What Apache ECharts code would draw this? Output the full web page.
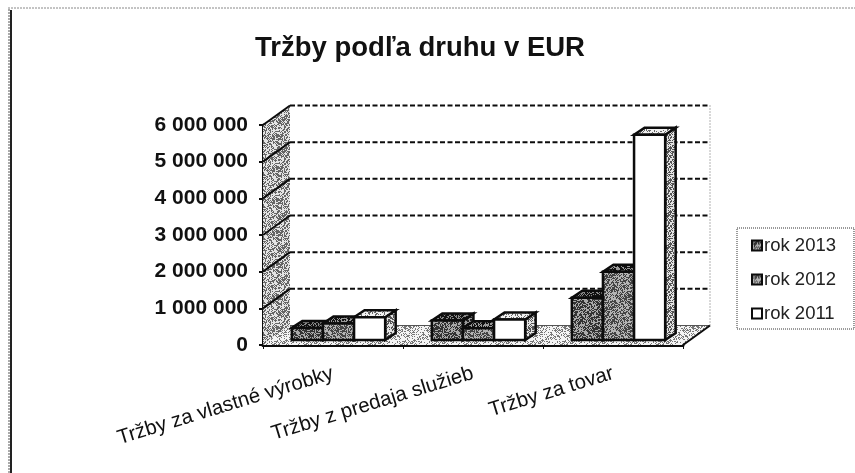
<!DOCTYPE html>
<html><head><meta charset="utf-8">
<style>html,body{margin:0;padding:0;background:#fff}#c{width:855px;height:473px}</style>
<script src="https://cdn.jsdelivr.net/npm/echarts@6/dist/echarts.min.js"></script>
</head><body><div id="c"></div>
<script>
const titleText = 'Tržby podľa druhu v EUR';
const categories = ['Tržby za vlastné výrobky', 'Tržby z predaja služieb', 'Tržby za tovar'];
const seriesNames = ['rok 2013', 'rok 2012', 'rok 2011'];
const values2013 = [330000, 530000, 1150000];
const values2012 = [450000, 320000, 1860000];
const values2011 = [620000, 560000, 5600000];
const yMax = 6000000;
const yStep = 1000000;

function stipple(dark, light, share) {
  const n = 32, cv = document.createElement('canvas');
  cv.width = cv.height = n;
  const g = cv.getContext('2d');
  g.fillStyle = light; g.fillRect(0, 0, n, n);
  g.fillStyle = dark;
  let h = 12345;
  for (let y = 0; y < n; y++) for (let x = 0; x < n; x++) {
    h = (h * 1103515 + 12345) & 0x7fffffff;
    if (((x + y) % 2 === 0 ? share + 0.12 : share - 0.12) > (h >> 8 & 255) / 255) g.fillRect(x, y, 1, 1);
  }
  return { image: cv, repeat: 'repeat' };
}
const fills = {
  wall: stipple('#666', '#e4e4e4', 0.48),
  floor: stipple('#777', '#f4f4f4', 0.3),
  front: [stipple('#333', '#aaa', 0.55), stipple('#444', '#b4b4b4', 0.5), '#ffffff'],
  top: [stipple('#111', '#888', 0.62), stipple('#111', '#999', 0.55), stipple('#666', '#f0f0f0', 0.3)],
  side: [stipple('#222', '#999', 0.6), stipple('#222', '#aaa', 0.55), stipple('#555', '#e4e4e4', 0.45)]
};
const ink = '#0c0c0c';
const DX = 27, DY = -19.5, BDX = 10.5, BDY = -7, SX = 5.5, SY = -5;

function poly(pts, fill, lw) {
  return { type: 'polygon', shape: { points: pts }, style: { fill: fill, stroke: ink, lineWidth: lw === undefined ? 2.5 : lw } };
}
function frame(params, api) {
  const cs = params.coordSys, kids = [];
  const L = cs.x, R = cs.x + cs.width, B = api.coord([0, 0])[1], T = api.coord([0, yMax])[1];
  kids.push(poly([[L, B], [L + DX, B + DY], [L + DX, T + DY], [L, T]], fills.wall, 0));
  kids.push(poly([[L, B], [L + DX, B + DY], [R + DX, B + DY], [R, B]], fills.floor, 0));
  kids.push({ type: 'line', shape: { x1: L + DX, y1: B + DY, x2: R + DX, y2: B + DY }, style: { stroke: '#555', lineWidth: 1 } });
  kids.push({ type: 'line', shape: { x1: R, y1: B, x2: R + DX, y2: B + DY }, style: { stroke: ink, lineWidth: 2 } });
  kids.push({ type: 'line', shape: { x1: R + DX, y1: T + DY, x2: R + DX, y2: B + DY }, style: { stroke: '#666', lineWidth: 1, lineDash: [1, 2] } });
  for (let v = yStep; v <= yMax; v += yStep) {
    const y = api.coord([0, v])[1];
    kids.push({ type: 'line', shape: { x1: L, y1: y, x2: L + DX, y2: y + DY }, style: { stroke: ink, lineWidth: 2 } });
    kids.push({ type: 'line', shape: { x1: L + DX, y1: y + DY, x2: R + DX, y2: y + DY }, style: { stroke: ink, lineWidth: 2, lineDash: [5, 2.5] } });
  }
  return { type: 'group', children: kids };
}
function bar3d(idx) {
  return function (params, api) {
    const band = api.size([1, 0])[0], w = band / 4.5;
    const p = api.coord([api.value(0), api.value(1)]), base = api.coord([api.value(0), 0]);
    const x0 = p[0] - 1.5 * w + idx * w + SX, x1 = x0 + w;
    const t = p[1] + SY, b = base[1] + SY;
    return { type: 'group', children: [
      poly([[x1, t], [x1 + BDX, t + BDY], [x1 + BDX, b + BDY], [x1, b]], fills.side[idx]),
      poly([[x0, t], [x0 + BDX, t + BDY], [x1 + BDX, t + BDY], [x1, t]], fills.top[idx]),
      poly([[x0, t], [x1, t], [x1, b], [x0, b]], fills.front[idx])
    ] };
  };
}
const fontName = '"Liberation Sans", Arial, sans-serif';
const yearData = [values2013, values2012, values2011];
const option = {
  animation: false,
  backgroundColor: '#fff',
  title: { text: titleText, left: 415, top: 29, textAlign: 'center',
    textStyle: { fontFamily: fontName, fontWeight: 'bold', fontSize: 27.5, color: '#111' } },
  grid: { left: 263, top: 125, width: 420, height: 220, containLabel: false },
  legend: {
    data: seriesNames.map((n, i) => ({ name: n, icon: 'rect', itemStyle: { color: fills.front[i], borderColor: ink, borderWidth: 2 } })),
    orient: 'vertical', left: 737, top: 228,
    padding: [8, 18, 6, 14], itemWidth: 10, itemHeight: 10, itemGap: 15,
    borderColor: '#333', borderWidth: 1, borderType: [1, 1], backgroundColor: '#fff',
    textStyle: { fontFamily: fontName, fontSize: 18.5, color: '#222', padding: [0, 0, 0, -3] }
  },
  xAxis: { type: 'category', data: categories, boundaryGap: true,
    axisLine: { lineStyle: { color: ink, width: 3 } },
    axisTick: { show: true, length: 4, lineStyle: { color: ink, width: 1 } },
    axisLabel: { rotate: 17, interval: 0, margin: 28, fontFamily: fontName, fontSize: 20.5, color: '#111' } },
  yAxis: { type: 'value', min: 0, max: yMax, interval: yStep,
    axisLine: { show: true, lineStyle: { color: ink, width: 3 } },
    axisTick: { show: true, length: 4, lineStyle: { color: ink, width: 2 } },
    splitLine: { show: false },
    axisLabel: { margin: 15, fontFamily: fontName, fontWeight: 'bold', fontSize: 21, color: '#111',
      formatter: v => String(v).replace(/\B(?=(\d{3})+$)/g, ' ') } },
  series: [
    { type: 'custom', name: 'frame', silent: true, z: 1, renderItem: frame, data: [[0, 0]], encode: { x: 0, y: 1 } }
  ].concat(seriesNames.map((n, i) => ({
    type: 'custom', name: n, z: 2 + i, renderItem: bar3d(i),
    itemStyle: { color: i === 2 ? '#fff' : '#555' },
    data: categories.map((c, k) => [k, yearData[i][k]]), encode: { x: 0, y: 1 }
  }))),
  graphic: [
    { type: 'line', silent: true, shape: { x1: 11, y1: 10, x2: 11, y2: 473 }, style: { stroke: '#222', lineWidth: 2 } },
    { type: 'line', silent: true, shape: { x1: 8, y1: 8, x2: 855, y2: 8 }, style: { stroke: '#888', lineWidth: 1, lineDash: [2, 1] } },
    { type: 'line', silent: true, shape: { x1: 9, y1: 9, x2: 9, y2: 473 }, style: { stroke: '#aaa', lineWidth: 2, lineDash: [2, 1] } }
  ]
};
echarts.init(document.getElementById('c')).setOption(option);
</script></body></html>
